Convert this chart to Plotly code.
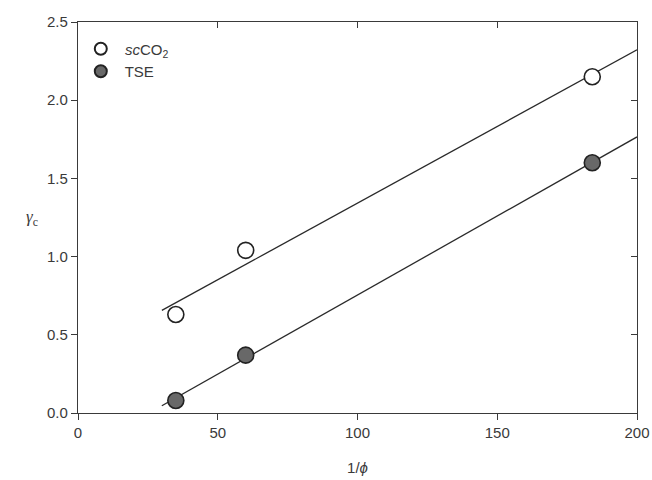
import numpy as np
import plotly.graph_objects as go

inv_phi = [35, 60, 184]
gamma_scco2 = [0.63, 1.04, 2.15]
gamma_tse = [0.08, 0.37, 1.60]
fit_x = [30, 200]
x_ticks = [0, 50, 100, 150, 200]
y_ticks = [0.0, 0.5, 1.0, 1.5, 2.0, 2.5]

FAM = "Liberation Sans, Arial, sans-serif"
font = dict(family=FAM, size=15, color="#3a3a3a")

fig = go.Figure()
for ys in (gamma_scco2, gamma_tse):
    p = np.polyfit(inv_phi, ys, 1)
    fx = np.array(fit_x, dtype=float)
    fig.add_trace(go.Scatter(x=fx, y=np.polyval(p, fx), mode="lines",
                             line=dict(color="#2a2a2a", width=1.3),
                             showlegend=False, hoverinfo="skip"))

fig.add_trace(go.Scatter(x=inv_phi, y=gamma_scco2, mode="markers",
                         name=" <i>sc</i>CO<sub>2</sub>", legendgroup="a",
                         marker=dict(size=16, color="white",
                                     line=dict(color="#222", width=1.6))))
fig.add_trace(go.Scatter(x=inv_phi, y=gamma_tse, mode="markers", name=" TSE",
                         legendgroup="b",
                         marker=dict(size=16, color="#686868",
                                     line=dict(color="#222", width=1.6))))

axis_common = dict(showgrid=False, zeroline=False, linecolor="#3a3a3a", linewidth=1.3,
                   ticks="outside", ticklen=6, tickcolor="#3a3a3a", tickwidth=1.2,
                   tickfont=font, automargin=False)
fig.update_layout(
    width=652, height=480,
    margin=dict(l=78, r=15, t=22, b=67),
    paper_bgcolor="white", plot_bgcolor="white",
    font=font,
    xaxis=dict(range=[0, 200], tickvals=x_ticks, ticktext=[str(v) for v in x_ticks],
               title=dict(text="1/<i>ϕ</i>", font=font, standoff=22), **axis_common),
    yaxis=dict(range=[0, 2.5], tickvals=y_ticks, ticktext=[f"{v:.1f}" for v in y_ticks],
               **axis_common),
    xaxis2=dict(overlaying="x", side="top", range=[0, 200], tickvals=x_ticks,
                showticklabels=False, ticks="inside", ticklen=6, tickcolor="#3a3a3a",
                showline=True, linecolor="#3a3a3a", linewidth=1.3, showgrid=False,
                zeroline=False, automargin=False),
    yaxis2=dict(overlaying="y", side="right", range=[0, 2.5], tickvals=y_ticks,
                showticklabels=False, ticks="inside", ticklen=6, tickcolor="#3a3a3a",
                showline=True, linecolor="#3a3a3a", linewidth=1.3, showgrid=False,
                zeroline=False, automargin=False),
    legend=dict(x=0.005, y=0.973, xanchor="left", yanchor="top",
                bgcolor="rgba(0,0,0,0)", font=dict(family=FAM, size=15, color="#3a3a3a"),
                itemsizing="constant", tracegroupgap=0),
    annotations=[dict(text="<i>γ</i><sub>c</sub>", xref="paper", yref="paper",
                      x=-0.083, y=0.5, showarrow=False, xanchor="center",
                      font=dict(family="Liberation Serif, serif", size=17, color="#3a3a3a"))],
)
fig.add_trace(go.Scatter(x=[None], y=[None], xaxis="x2", yaxis="y2", showlegend=False))
fig.write_html("out.html", config={"displayModeBar": False},
               post_script="document.body.style.margin='0';document.body.style.overflow='hidden';")
